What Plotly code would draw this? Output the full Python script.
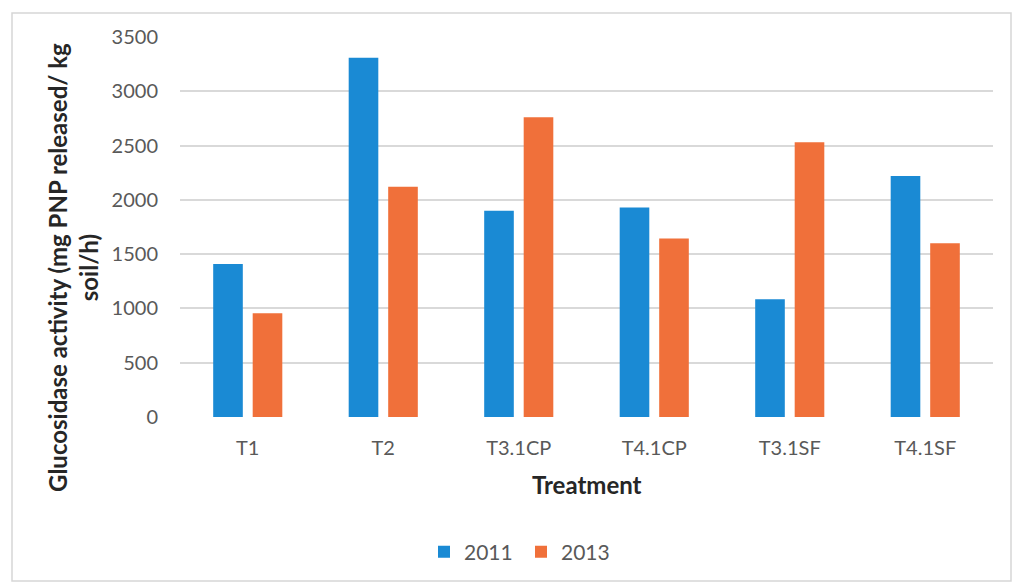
import plotly.graph_objects as go

# Glucosidase activity by treatment, two sampling years
treatments = ["T1", "T2", "T3.1CP", "T4.1CP", "T3.1SF", "T4.1SF"]
activity_2011 = [1410, 3310, 1900, 1930, 1085, 2220]
activity_2013 = [955, 2120, 2760, 1645, 2530, 1600]
y_ticks = [0, 500, 1000, 1500, 2000, 2500, 3000, 3500]

BLUE = "#1a8ad4"
ORANGE = "#f0703a"
TICK_GRAY = "#595959"
TITLE_DARK = "#262626"
FONT = "Lato"

W, H = 1016, 584
L, R, T, B = 180, 23, 37, 167
plot_w = W - L - R
plot_h = H - T - B


def px_x(x):
    return (x - L) / plot_w


def px_y(y):
    return (H - B - y) / plot_h


fig = go.Figure()
fig.add_trace(go.Bar(name="2011", x=treatments, y=activity_2011,
                     marker=dict(color=BLUE, line=dict(width=0))))
fig.add_trace(go.Bar(name="2013", x=treatments, y=activity_2013,
                     marker=dict(color=ORANGE, line=dict(width=0))))

fig.update_layout(
    width=W, height=H,
    margin=dict(l=L, r=R, t=T, b=B),
    paper_bgcolor="white", plot_bgcolor="white",
    barmode="group", bargap=0.417, bargroupgap=0.25,
    font=dict(family=FONT, size=20, color=TICK_GRAY),
    showlegend=True,
    legend=dict(orientation="h", xanchor="center", yanchor="middle",
                x=px_x(521), y=px_y(552), font=dict(size=21, color=TICK_GRAY),
                itemwidth=30, entrywidth=52, entrywidthmode="pixels",
                traceorder="normal"),
    xaxis=dict(showgrid=False, showline=False, zeroline=False, ticks="",
               ticklabelstandoff=17, tickfont=dict(size=20, color=TICK_GRAY)),
    yaxis=dict(range=[0, 3500], tickvals=y_ticks, showgrid=True,
               gridcolor="#d9d9d9", gridwidth=1.5, zeroline=False,
               showline=False, ticks="", ticklabelstandoff=21,
               tickfont=dict(size=20, color=TICK_GRAY)),
)

# Axis titles
fig.add_annotation(text="<b>Treatment</b>", xref="paper", yref="paper",
                   x=px_x(587), y=px_y(484), xanchor="center", yanchor="middle",
                   showarrow=False, font=dict(family=FONT, size=24, color=TITLE_DARK))
fig.add_annotation(text="<b>Glucosidase activity (mg PNP released/ kg<br>soil/h)</b>",
                   xref="paper", yref="paper", x=px_x(73), y=px_y(268),
                   xanchor="center", yanchor="middle", textangle=-90, showarrow=False,
                   font=dict(family=FONT, size=24, color=TITLE_DARK))

# Chart area border
fig.add_shape(type="rect", xref="paper", yref="paper",
              x0=px_x(12), x1=px_x(1011), y0=px_y(581), y1=px_y(13),
              line=dict(color="#d6d6d6", width=1.5), fillcolor="rgba(0,0,0,0)",
              layer="below")

fig.write_html("out.html")
